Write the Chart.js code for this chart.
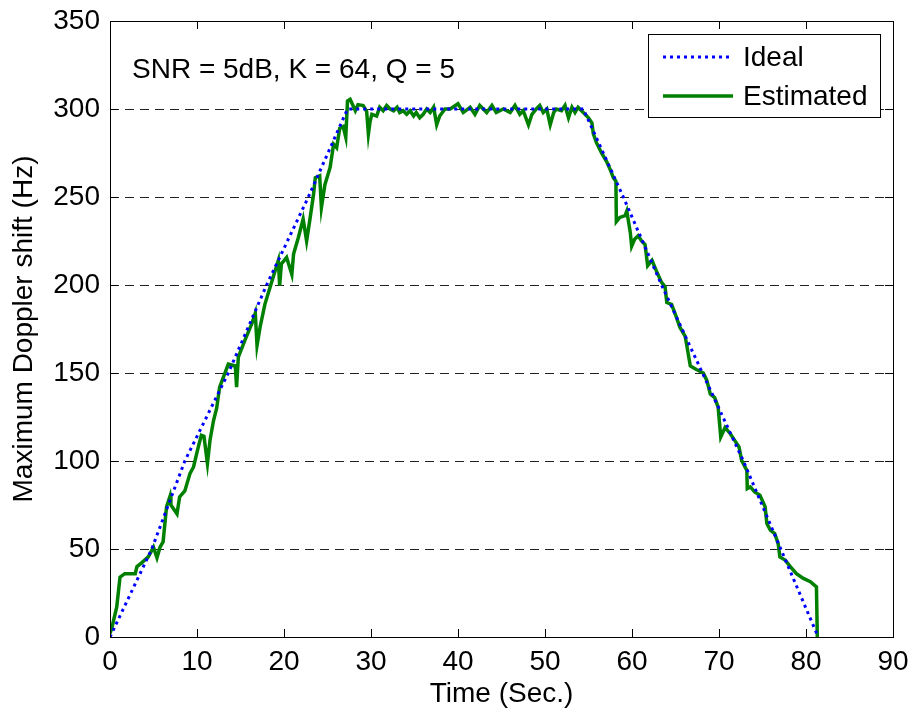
<!DOCTYPE html>
<html>
<head>
<meta charset="utf-8">
<script src="https://cdn.jsdelivr.net/npm/chart.js@4"></script>
<style>
    html, body { margin: 0; padding: 0; background: #fff; }
    #wrap { width: 913px; height: 714px; }
</style>
</head>
<body>
<div id="wrap"><canvas id="dopplerChart"></canvas></div>
<script>
// ideal doppler profile (sec, Hz)
const idealTime  = [0, 4.8, 8.6, 13.6, 18, 22.8, 27.3, 54.4, 59, 63.4, 68.1, 72.8, 77.1, 81.4];
const idealValue = [0, 50, 100, 150, 200, 250, 300, 300, 250, 200, 150, 100, 50, 0];

// estimated doppler
const estTime = [
    0, 0.2, 0.77, 0.95, 1.15, 1.7, 2.9, 3.1, 3.6, 4.4, 5.0, 5.4, 5.75, 6.1, 6.5, 6.9, 7.0, 7.7, 8.0, 8.6,
    9.2, 9.6, 10.15, 10.5, 10.8, 11.2, 11.5, 11.9, 12.26, 12.6, 13.6, 14.4, 14.55, 14.75, 15.5, 16.3, 16.7, 16.9, 17.25, 17.8,
    18.4, 18.97, 19.35, 19.5, 19.7, 20.3, 20.9, 21.1, 21.65, 22.2, 22.6, 23.0, 23.4, 23.6, 24.1, 24.3, 24.7, 25.3, 25.7, 26.05,
    26.4, 26.8, 27.1, 27.3, 27.6, 28.2, 28.5, 29.1, 29.5, 29.7, 29.9, 30.1, 30.65, 31.0, 31.4, 31.8, 32.2, 32.6, 33.0, 33.3,
    33.7, 34.1, 34.5, 34.9, 35.2, 35.6, 36.0, 36.4, 36.8, 37.2, 37.55, 37.9, 38.5, 39.1, 39.7, 40.0, 40.6, 41.4, 41.95, 42.5,
    43.3, 43.9, 44.4, 45.2, 46.0, 46.55, 47.1, 47.5, 48.1, 48.5, 49.0, 49.4, 49.8, 50.2, 50.6, 51.0, 51.3, 51.9, 52.3, 52.7,
    53.1, 53.45, 53.8, 54.4, 55.0, 55.4, 55.55, 55.9, 56.5, 57.1, 57.5, 57.85, 58.15, 58.2, 58.6, 59.2, 59.4, 59.8, 59.96, 60.3,
    60.7, 61.1, 61.5, 61.8, 62.3, 62.8, 63.4, 63.8, 64.0, 64.55, 65.1, 65.5, 66.1, 66.3, 66.7, 67.4, 68.2, 68.6, 69.0, 69.5,
    69.9, 70.2, 70.7, 71.3, 71.8, 72.3, 72.6, 73.2, 73.25, 73.6, 74.1, 74.7, 75.3, 75.5, 75.9, 76.4, 76.8, 77.0, 77.6, 78.2,
    78.9, 79.7, 80.5, 81.2, 81.3
];
const estValue = [
    2, 5, 17, 25, 34, 36, 36, 40, 42, 45.5, 51, 45, 51, 54, 74, 80, 75, 70, 79.6, 83,
    93, 96.6, 108, 114.6, 114, 98.6, 112, 123, 130, 142, 155, 154, 142, 159, 168.5, 178, 184, 165.6, 176, 189,
    198.7, 208, 214, 199.7, 212, 215.7, 206, 217.6, 227, 237.5, 225, 238, 251.7, 261, 262, 244, 257, 266.8, 280, 278,
    289, 290, 284, 304.6, 305.5, 299, 302.5, 302, 298.6, 285.7, 293, 297, 296, 301, 299, 302, 300, 299, 301, 298,
    299, 297, 299, 296, 298, 295, 297, 300, 298, 301, 291, 296, 300, 300, 302, 303, 298, 301, 297, 302,
    298, 302, 298, 300, 298, 302, 297, 299, 291, 297, 300, 302, 298, 300, 291, 298, 300, 299, 302, 295,
    301, 298, 301, 298, 295, 292, 286, 281, 275, 270, 265.5, 261, 259, 236, 238.4, 239.4, 242, 230, 222, 226,
    228, 225, 223, 211, 214, 208, 201.5, 199, 190, 189, 181.7, 176, 171, 165.6, 154, 152, 150, 145.8, 138, 136,
    130.6, 113.6, 119, 115.5, 111.7, 108, 100.4, 94.7, 84.3, 85.3, 82.4, 80.5, 74, 64.5, 60.7, 58.8, 53, 45.5, 43.7, 40,
    36, 33.3, 31.4, 28.5, 0
];

const xTicks = [0, 10, 20, 30, 40, 50, 60, 70, 80, 90];
const yTicks = [0, 50, 100, 150, 200, 250, 300, 350];

const FONT = 'Arial, "Liberation Sans", Helvetica, sans-serif';
const FONT_SIZE = 28;
const IDEAL_DASH = [3, 4];

// box, inward ticks, note text and legend drawn the MATLAB way
const matlabFrame = {
    id: 'matlabFrame',
    afterDraw(chart) {
        const { ctx, chartArea: a, scales } = chart;
        ctx.save();
        ctx.strokeStyle = '#000';
        ctx.lineWidth = 1;
        ctx.setLineDash([]);
        ctx.beginPath();
        xTicks.forEach(v => {
            const px = Math.round(scales.x.getPixelForValue(v)) + 0.5;
            ctx.moveTo(px, a.bottom); ctx.lineTo(px, a.bottom - 8);
            ctx.moveTo(px, a.top); ctx.lineTo(px, a.top + 8);
        });
        yTicks.forEach(v => {
            const py = Math.round(scales.y.getPixelForValue(v)) + 0.5;
            ctx.moveTo(a.left, py); ctx.lineTo(a.left + 8, py);
            ctx.moveTo(a.right, py); ctx.lineTo(a.right - 8, py);
        });
        ctx.stroke();
        ctx.strokeRect(Math.round(a.left) + 0.5, Math.round(a.top) + 0.5,
            Math.round(a.right - a.left), Math.round(a.bottom - a.top));

        ctx.fillStyle = '#000';
        ctx.font = FONT_SIZE + 'px ' + FONT;
        ctx.textBaseline = 'middle';
        ctx.fillText('SNR = 5dB, K = 64, Q = 5', a.left + 22, 70);

        // legend
        const lx = 648, ly = 34, lw = 232, lh = 83;
        ctx.fillStyle = '#fff';
        ctx.fillRect(lx, ly, lw, lh);
        ctx.strokeRect(lx + 0.5, ly + 0.5, lw, lh);
        ctx.lineWidth = 3;
        ctx.strokeStyle = '#0000ff';
        ctx.setLineDash(IDEAL_DASH);
        ctx.beginPath(); ctx.moveTo(663, 57); ctx.lineTo(733, 57); ctx.stroke();
        ctx.setLineDash([]);
        ctx.strokeStyle = '#008000';
        ctx.lineWidth = 3.5;
        ctx.beginPath(); ctx.moveTo(663, 96); ctx.lineTo(733, 96); ctx.stroke();
        ctx.fillStyle = '#000';
        ctx.fillText('Ideal', 743, 58);
        ctx.fillText('Estimated', 743, 97);
        ctx.restore();
    }
};

const ctx = document.getElementById('dopplerChart').getContext('2d');
new Chart(ctx, {
    type: 'line',
    data: {
        datasets: [
            {
                label: 'Ideal',
                data: idealTime.map((t, i) => ({ x: t, y: idealValue[i] })),
                borderColor: '#0000ff',
                borderWidth: 3,
                borderDash: IDEAL_DASH,
                pointRadius: 0,
                tension: 0,
                fill: false
            },
            {
                label: 'Estimated',
                data: estTime.map((t, i) => ({ x: t, y: estValue[i] })),
                borderColor: '#008000',
                borderWidth: 3.5,
                pointRadius: 0,
                tension: 0,
                fill: false
            }
        ]
    },
    options: {
        responsive: true, maintainAspectRatio: false,
        animation: false,
        layout: { padding: { top: 21, right: 20, left: 0, bottom: 0 } },
        plugins: { legend: { display: false }, tooltip: { enabled: false } },
        scales: {
            x: {
                type: 'linear', min: 0, max: 90,
                afterBuildTicks: s => { s.ticks = xTicks.map(v => ({ value: v })); },
                afterFit: s => { s.height = 77; s.paddingLeft = 0; s.paddingRight = 0; },
                grid: { display: false, drawTicks: false },
                border: { display: false },
                ticks: { color: '#000', padding: 8, maxRotation: 0, font: { family: FONT, size: FONT_SIZE } },
                title: { display: true, text: 'Time (Sec.)', color: '#000', padding: { top: 0, bottom: 3 }, font: { family: FONT, size: FONT_SIZE } }
            },
            y: {
                type: 'linear', min: 0, max: 350,
                afterBuildTicks: s => { s.ticks = yTicks.map(v => ({ value: v })); },
                afterFit: s => { s.width = 110; s.paddingTop = 0; s.paddingBottom = 0; },
                grid: { color: '#222', lineWidth: 1, drawTicks: false },
                border: { display: false, dash: [9, 6] },
                ticks: { color: '#000', padding: 10, font: { family: FONT, size: FONT_SIZE } },
                title: { display: true, text: 'Maximum Doppler shift (Hz)', color: '#000', padding: { top: 7, bottom: 0 }, font: { family: FONT, size: FONT_SIZE } }
            }
        }
    },
    plugins: [matlabFrame]
});
</script>
</body>
</html>
